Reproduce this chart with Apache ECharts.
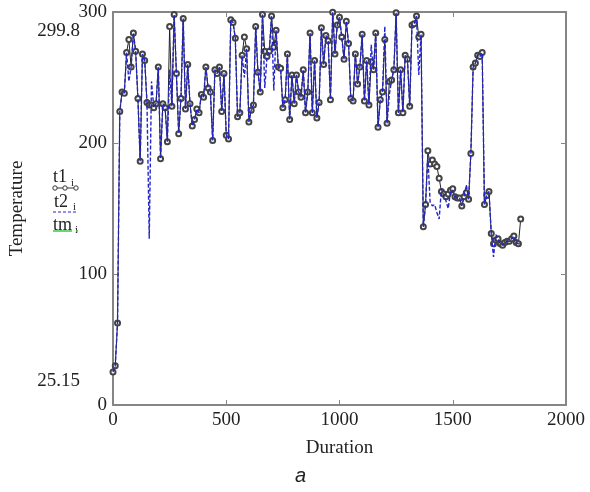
<!DOCTYPE html>
<html>
<head>
    <meta charset="utf-8">
    <title>Temperature - Duration</title>
    <script src="https://cdn.jsdelivr.net/npm/echarts@6/dist/echarts.min.js"></script>
    <style>
        body { margin: 0; background: #fff; }
        #main { width: 590px; height: 492px; }
    </style>
</head>
<body>
<div id="main"></div>
<script>
    // sampling step of Duration
    var step = 10;

    var t1 = [25.15, 30, 62.6, 224, 239, 238, 269, 279, 258, 284,
        270, 234, 186, 268, 263, 231, 229, 229, 227, 230,
        258, 188, 230, 227, 201, 289, 228, 298, 253, 207,
        234, 295, 226, 260, 230, 213, 218, 226, 223, 237,
        235, 258, 242, 239, 202, 256, 253, 258, 224, 253,
        206, 203, 294, 292, 280, 220, 223, 267, 281, 272,
        216, 225, 229, 289, 254, 239, 298, 270, 266, 270,
        297, 273, 286, 258, 257, 227, 233, 268, 218, 252,
        230, 252, 239, 235, 256, 223, 239, 284, 223, 263,
        219, 231, 288, 260, 282, 278, 233, 299.8, 268, 290,
        296, 281, 264, 293, 276, 234, 232, 268, 245, 258,
        283, 232, 263, 229, 262, 256, 284, 212, 233, 239,
        279, 215, 247, 248, 256, 299.5, 223, 256, 223, 267,
        264, 228, 290, 291, 297, 281, 283, 136, 153, 194,
        184, 187, 184, 182, 173, 163, 161, 159, 161, 164,
        165, 159, 158, 158, 152, 159, 162, 157, 192, 258,
        261, 267, 266, 269, 153, 160, 163, 131, 123, 126,
        127, 123, 122, 124, 125, 125, 127, 129, 124, 123,
        142];

    var t2 = [25.15, 30, 62.6, 224, 239, 238, 269, 247, 258, 284,
        270, 234, 186, 268, 263, 231, 127, 247, 227, 230,
        258, 188, 230, 227, 201, 256, 228, 298, 253, 207,
        234, 295, 226, 260, 230, 213, 218, 226, 223, 237,
        235, 258, 242, 239, 202, 256, 253, 258, 224, 253,
        206, 203, 294, 292, 280, 220, 223, 267, 250, 272,
        216, 225, 229, 289, 254, 239, 298, 242, 266, 270,
        297, 240, 286, 258, 257, 227, 233, 268, 218, 252,
        230, 252, 239, 235, 256, 223, 239, 284, 223, 263,
        219, 231, 288, 260, 282, 278, 233, 299.8, 268, 290,
        296, 281, 264, 293, 276, 234, 232, 268, 245, 258,
        283, 232, 263, 229, 275, 256, 284, 212, 233, 239,
        289, 215, 237, 248, 256, 299.5, 223, 256, 223, 267,
        264, 228, 290, 291, 297, 252, 283, 136, 153, 190,
        155, 152, 153, 147, 142, 165, 160, 156, 150, 163,
        164, 159, 158, 158, 152, 159, 168, 157, 192, 258,
        261, 267, 266, 269, 153, 160, 163, 131, 113, 130,
        127, 123, 122, 124, 125, 125, 127, 129, 124, 123,
        123];

    var xTicks = [0, 500, 1000, 1500, 2000];
    var yTicks = [0, 100, 200, 300];
    var extraLabels = ['299.8', '25.15'];

    function toPoints(arr) {
        return arr.map(function (v, i) { return [i * step, v]; });
    }

    var serif = 'Liberation Serif';
    var axisGray = '#858585';
    var plain = function (v) { return String(v); };

    function frameAxis(pos, name, gap, isX) {
        var ax = {
            type: 'value',
            position: pos,
            min: isX ? xTicks[0] : yTicks[0],
            max: isX ? xTicks[xTicks.length - 1] : yTicks[yTicks.length - 1],
            interval: isX ? 500 : 100,
            axisLine: { show: true, onZero: false, lineStyle: { color: axisGray, width: 2 } },
            axisTick: { show: true, inside: true, length: 5, lineStyle: { color: axisGray } },
            axisLabel: { show: !!name, fontFamily: serif, fontSize: 19, color: '#222', margin: 6, formatter: plain },
            splitLine: { show: false }
        };
        if (name) {
            ax.name = name;
            ax.nameLocation = 'middle';
            ax.nameGap = gap;
            ax.nameTextStyle = { fontFamily: serif, fontSize: 19, color: '#222' };
        }
        return ax;
    }

    var option = {
        animation: false,
        grid: { left: 113, right: 24, top: 12, bottom: 87 },
        xAxis: [frameAxis('bottom', 'Duration', 34, true), frameAxis('top', null, 0, true)],
        yAxis: [frameAxis('left', 'Temperature', 86, false), frameAxis('right', null, 0, false)],
        series: [{
            name: 't1',
            type: 'line',
            data: toPoints(t1),
            symbol: 'emptyCircle',
            symbolSize: 5,
            lineStyle: { color: '#222', width: 1 },
            itemStyle: { color: '#444', borderWidth: 0.7 },
            z: 2
        }, {
            name: 't2',
            type: 'line',
            data: toPoints(t2),
            showSymbol: false,
            symbol: 'none',
            lineStyle: { color: '#2424cc', width: 1.4, type: [4, 2] },
            z: 3
        }],
        graphic: [
            // extra y labels
            { type: 'text', right: 510, top: 22, style: { text: extraLabels[0], font: '19px ' + serif, fill: '#222' } },
            { type: 'text', right: 510, top: 372, style: { text: extraLabels[1], font: '19px ' + serif, fill: '#222' } },
            // legend t1
            { type: 'text', left: 53, top: 168, style: { text: 't1', font: '18px ' + serif, fill: '#222' } },
            { type: 'text', left: 71, top: 178, style: { text: 'i', font: '11px ' + serif, fill: '#222' } },
            { type: 'line', shape: { x1: 53, y1: 188, x2: 78, y2: 188 }, style: { stroke: '#333', lineWidth: 1 } },
            { type: 'circle', shape: { cx: 55, cy: 188, r: 2.2 }, style: { fill: '#fff', stroke: '#333', lineWidth: 1 } },
            { type: 'circle', shape: { cx: 65, cy: 188, r: 2.2 }, style: { fill: '#fff', stroke: '#333', lineWidth: 1 } },
            { type: 'circle', shape: { cx: 76, cy: 188, r: 2.2 }, style: { fill: '#fff', stroke: '#333', lineWidth: 1 } },
            // legend t2
            { type: 'text', left: 54, top: 193, style: { text: 't2', font: '18px ' + serif, fill: '#222' } },
            { type: 'text', left: 73, top: 202, style: { text: 'i', font: '11px ' + serif, fill: '#222' } },
            { type: 'line', shape: { x1: 53, y1: 212, x2: 78, y2: 212 }, style: { stroke: '#2424cc', lineWidth: 1.2, lineDash: [3, 2] } },
            // legend tm
            { type: 'text', left: 53, top: 216, style: { text: 'tm', font: '18px ' + serif, fill: '#222' } },
            { type: 'text', left: 75, top: 225, style: { text: 'i', font: '11px ' + serif, fill: '#222' } },
            { type: 'line', shape: { x1: 53, y1: 231, x2: 72, y2: 231 }, style: { stroke: '#33cc44', lineWidth: 1.5 } },
            { type: 'line', shape: { x1: 76, y1: 231, x2: 78, y2: 231 }, style: { stroke: '#33cc44', lineWidth: 1.5 } },
            // caption
            { type: 'text', left: 295, top: 466, style: { text: 'a', font: 'italic 20px Liberation Sans', fill: '#222' } }
        ]
    };

    var myChart = echarts.init(document.getElementById('main'));
    myChart.setOption(option);
</script>
</body>
</html>
